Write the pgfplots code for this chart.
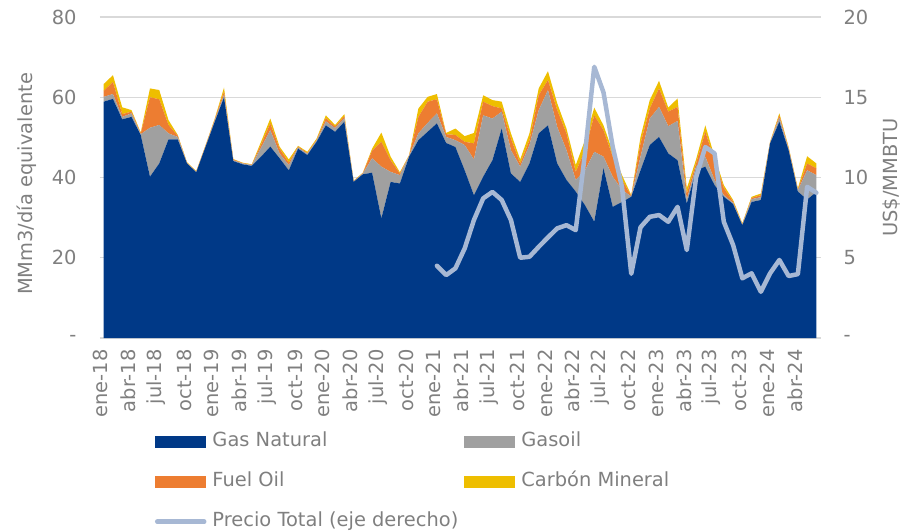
\documentclass[border=0pt]{standalone}
\usepackage{fontspec}
\setmainfont{DejaVu Sans}
\usepackage{pgfplots}
\pgfplotsset{compat=1.18}
\usepackage{pgfplotstable}
\definecolor{gasc}{RGB}{0,57,135}
\definecolor{goc}{RGB}{160,160,160}
\definecolor{foc}{RGB}{237,125,49}
\definecolor{cc}{RGB}{238,190,0}
\definecolor{pc}{RGB}{167,184,212}
\definecolor{textc}{RGB}{127,127,127}
\definecolor{gridc}{RGB}{217,217,217}
\newcommand{\fs}{\fontsize{19.5}{23.4}\selectfont}
\pgfplotstableread{
i gas go fo c price
0 58.9 1.2 1.5 1.7 nan
1 59.6 1.2 3.0 1.7 nan
2 54.5 0.6 0.7 1.7 nan
3 55.1 0.9 0.4 0.4 nan
4 50.6 0.2 0.2 0.2 nan
5 40.2 12.2 7.6 2.2 nan
6 43.5 9.6 6.4 2.3 nan
7 49.5 1.5 2.1 1.2 nan
8 49.5 0.6 0.3 0.2 nan
9 43.5 0.1 0.1 0.1 nan
10 41.3 0.1 0.1 0.1 nan
11 47.6 0.1 0.2 0.1 nan
12 53.9 0.3 0.3 0.2 nan
13 60.0 0.6 0.8 1.0 nan
14 44.1 0.2 0.2 0.1 nan
15 43.3 0.2 0.1 0.1 nan
16 42.9 0.2 0.1 0.1 nan
17 45.2 2.2 0.8 0.7 nan
18 47.7 4.1 1.7 1.2 nan
19 44.8 1.2 1.2 0.5 nan
20 41.8 1.3 0.6 0.8 nan
21 47.2 0.3 0.2 0.2 nan
22 45.6 0.3 0.2 0.3 nan
23 48.9 0.3 0.2 0.3 nan
24 53.0 1.0 0.8 0.7 nan
25 51.4 0.9 0.4 0.4 nan
26 53.9 0.9 0.5 0.5 nan
27 38.9 0.1 0.1 0.1 nan
28 40.8 0.2 0.1 0.1 nan
29 41.2 3.6 1.9 0.5 nan
30 29.8 12.9 6.2 2.3 nan
31 38.9 2.5 2.9 0.9 nan
32 38.5 2.1 0.4 0.3 nan
33 45.2 0.2 0.1 0.1 nan
34 49.3 1.7 4.1 2.1 nan
35 51.4 2.2 5.3 1.2 nan
36 53.5 2.5 3.5 1.3 4.50
37 48.6 1.5 0.7 0.3 3.92
38 47.6 1.7 1.3 1.6 4.34
39 41.8 6.3 0.8 1.4 5.58
40 35.6 8.9 4.0 2.6 7.35
41 40.2 15.3 3.4 1.6 8.70
42 44.3 10.4 3.1 1.5 9.10
43 52.2 4.2 0.8 1.7 8.60
44 41.0 5.8 2.9 1.3 7.35
45 38.9 3.8 0.8 1.0 5.00
46 43.5 4.6 1.2 1.7 5.06
47 51.0 5.8 3.7 1.7 5.68
48 53.0 8.8 2.5 2.2 6.27
49 43.5 9.1 4.2 1.7 6.83
50 39.4 7.4 4.2 1.2 7.03
51 36.5 2.9 2.0 1.7 6.72
52 33.1 8.7 5.0 2.5 11.5
53 29.0 17.4 9.1 1.9 16.9
54 42.3 2.9 6.6 1.2 15.3
55 32.7 7.5 5.0 1.2 11.9
56 33.9 3.0 2.5 1.2 9.4
57 35.2 0.1 0.1 0.2 4.0
58 41.8 3.4 3.3 1.6 6.9
59 48.1 6.6 2.5 2.1 7.55
60 50.1 7.5 4.6 1.9 7.66
61 46.0 6.8 3.6 1.0 7.24
62 44.3 9.8 3.5 2.1 8.17
63 33.5 1.0 1.5 1.3 5.48
64 41.8 0.9 0.8 1.0 10.0
65 42.7 2.5 6.2 1.6 11.9
66 38.1 1.3 4.9 0.9 11.5
67 35.2 0.4 1.8 0.7 7.24
68 33.4 0.3 0.3 0.4 5.8
69 28.1 0.2 0.1 0.2 3.72
70 33.9 0.7 0.3 0.3 4.03
71 34.4 0.7 0.5 0.4 2.88
72 48.5 0.2 0.1 0.1 4.03
73 53.9 1.0 0.6 0.5 4.86
74 46.8 0.3 0.3 0.2 3.86
75 36.5 0.3 0.2 0.3 3.98
76 34.5 7.3 1.7 1.8 9.42
77 36.4 4.2 1.7 1.2 9.05
}\data
\begin{document}
\begin{tikzpicture}
\useasboundingbox (-100bp,-194bp) rectangle (806bp,338bp);
\begin{axis}[
  scale only axis, width=721bp, height=321bp,
  at={(0,0)}, anchor=south west,
  xmin=-0.4, xmax=77.5, ymin=0, ymax=80,
  stack plots=y,
  axis line style={draw=none},
  tick style={draw=none},
  ymajorgrids, major grid style={color=gridc, line width=1.2bp},
  ytick={0,20,40,60,80}, yticklabels={-,20,40,60,80},
  xtick={0,3,...,75},
  xticklabels={ene-18,abr-18,jul-18,oct-18,ene-19,abr-19,jul-19,oct-19,ene-20,abr-20,jul-20,oct-20,ene-21,abr-21,jul-21,oct-21,ene-22,abr-22,jul-22,oct-22,ene-23,abr-23,jul-23,oct-23,ene-24,abr-24},
  x tick label style={rotate=90, anchor=east, font=\fs, color=textc, xshift=-8bp, yshift=3bp},
  y tick label style={font=\fs, color=textc, xshift=-20bp},
  ylabel={MMm3/día equivalente},
  ylabel style={at={(axis description cs:-0.1017,0.48)}, anchor=center, font=\fs, color=textc},
  legend columns=2,
  legend cell align=left,
  legend style={at={(axis description cs:0.076,-0.285)}, anchor=north west, draw=none, fill=none, inner sep=0pt,
    font=\fs, text=textc,
    nodes={inner sep=3bp, text height=14bp, text depth=4bp},
    row sep=16bp,
    /tikz/every odd column/.append style={column sep=3bp},
    /tikz/every even column/.append style={column sep=3bp}},
]
\addplot[fill=gasc, draw=none, legend image code/.code={\fill[gasc] (0bp,-6bp) rectangle (51bp,6bp);}] table[x=i,y=gas]{\data} \closedcycle;
\addlegendentry{Gas Natural}
\addplot[fill=goc, draw=none, legend image code/.code={\fill[goc] (0bp,-6bp) rectangle (51bp,6bp);}] table[x=i,y=go]{\data} \closedcycle;
\addlegendentry{Gasoil}
\addplot[fill=foc, draw=none, legend image code/.code={\fill[foc] (0bp,-6bp) rectangle (51bp,6bp);}] table[x=i,y=fo]{\data} \closedcycle;
\addlegendentry{Fuel Oil}
\addplot[fill=cc, draw=none, legend image code/.code={\fill[cc] (0bp,-6bp) rectangle (51bp,6bp);}] table[x=i,y=c]{\data} \closedcycle;
\addlegendentry{Carbón Mineral}
\addlegendimage{legend image code/.code={\draw[pc, line width=4.5bp, line cap=round] (2bp,0bp) -- (49bp,0bp);}}
\addlegendentry{Precio Total (eje derecho)}
\end{axis}
\begin{axis}[
  scale only axis, width=721bp, height=321bp,
  at={(0,0)}, anchor=south west,
  xmin=-0.4, xmax=77.5, ymin=0, ymax=20,
  axis x line=none, axis y line*=right,
  y axis line style={draw=none},
  tick style={draw=none},
  ytick={0,5,10,15,20}, yticklabels={-,5,10,15,20},
  y tick label style={font=\fs, color=textc, xshift=19bp},
  ylabel={US\$/MMBTU},
  ylabel style={at={(axis description cs:1.098,0.5)}, anchor=center, rotate=0, font=\fs, color=textc},
]
\addplot[pc, line width=4.5bp, line join=round, line cap=round] table[x=i,y=price]{\data};
\end{axis}
\end{tikzpicture}
\end{document}
